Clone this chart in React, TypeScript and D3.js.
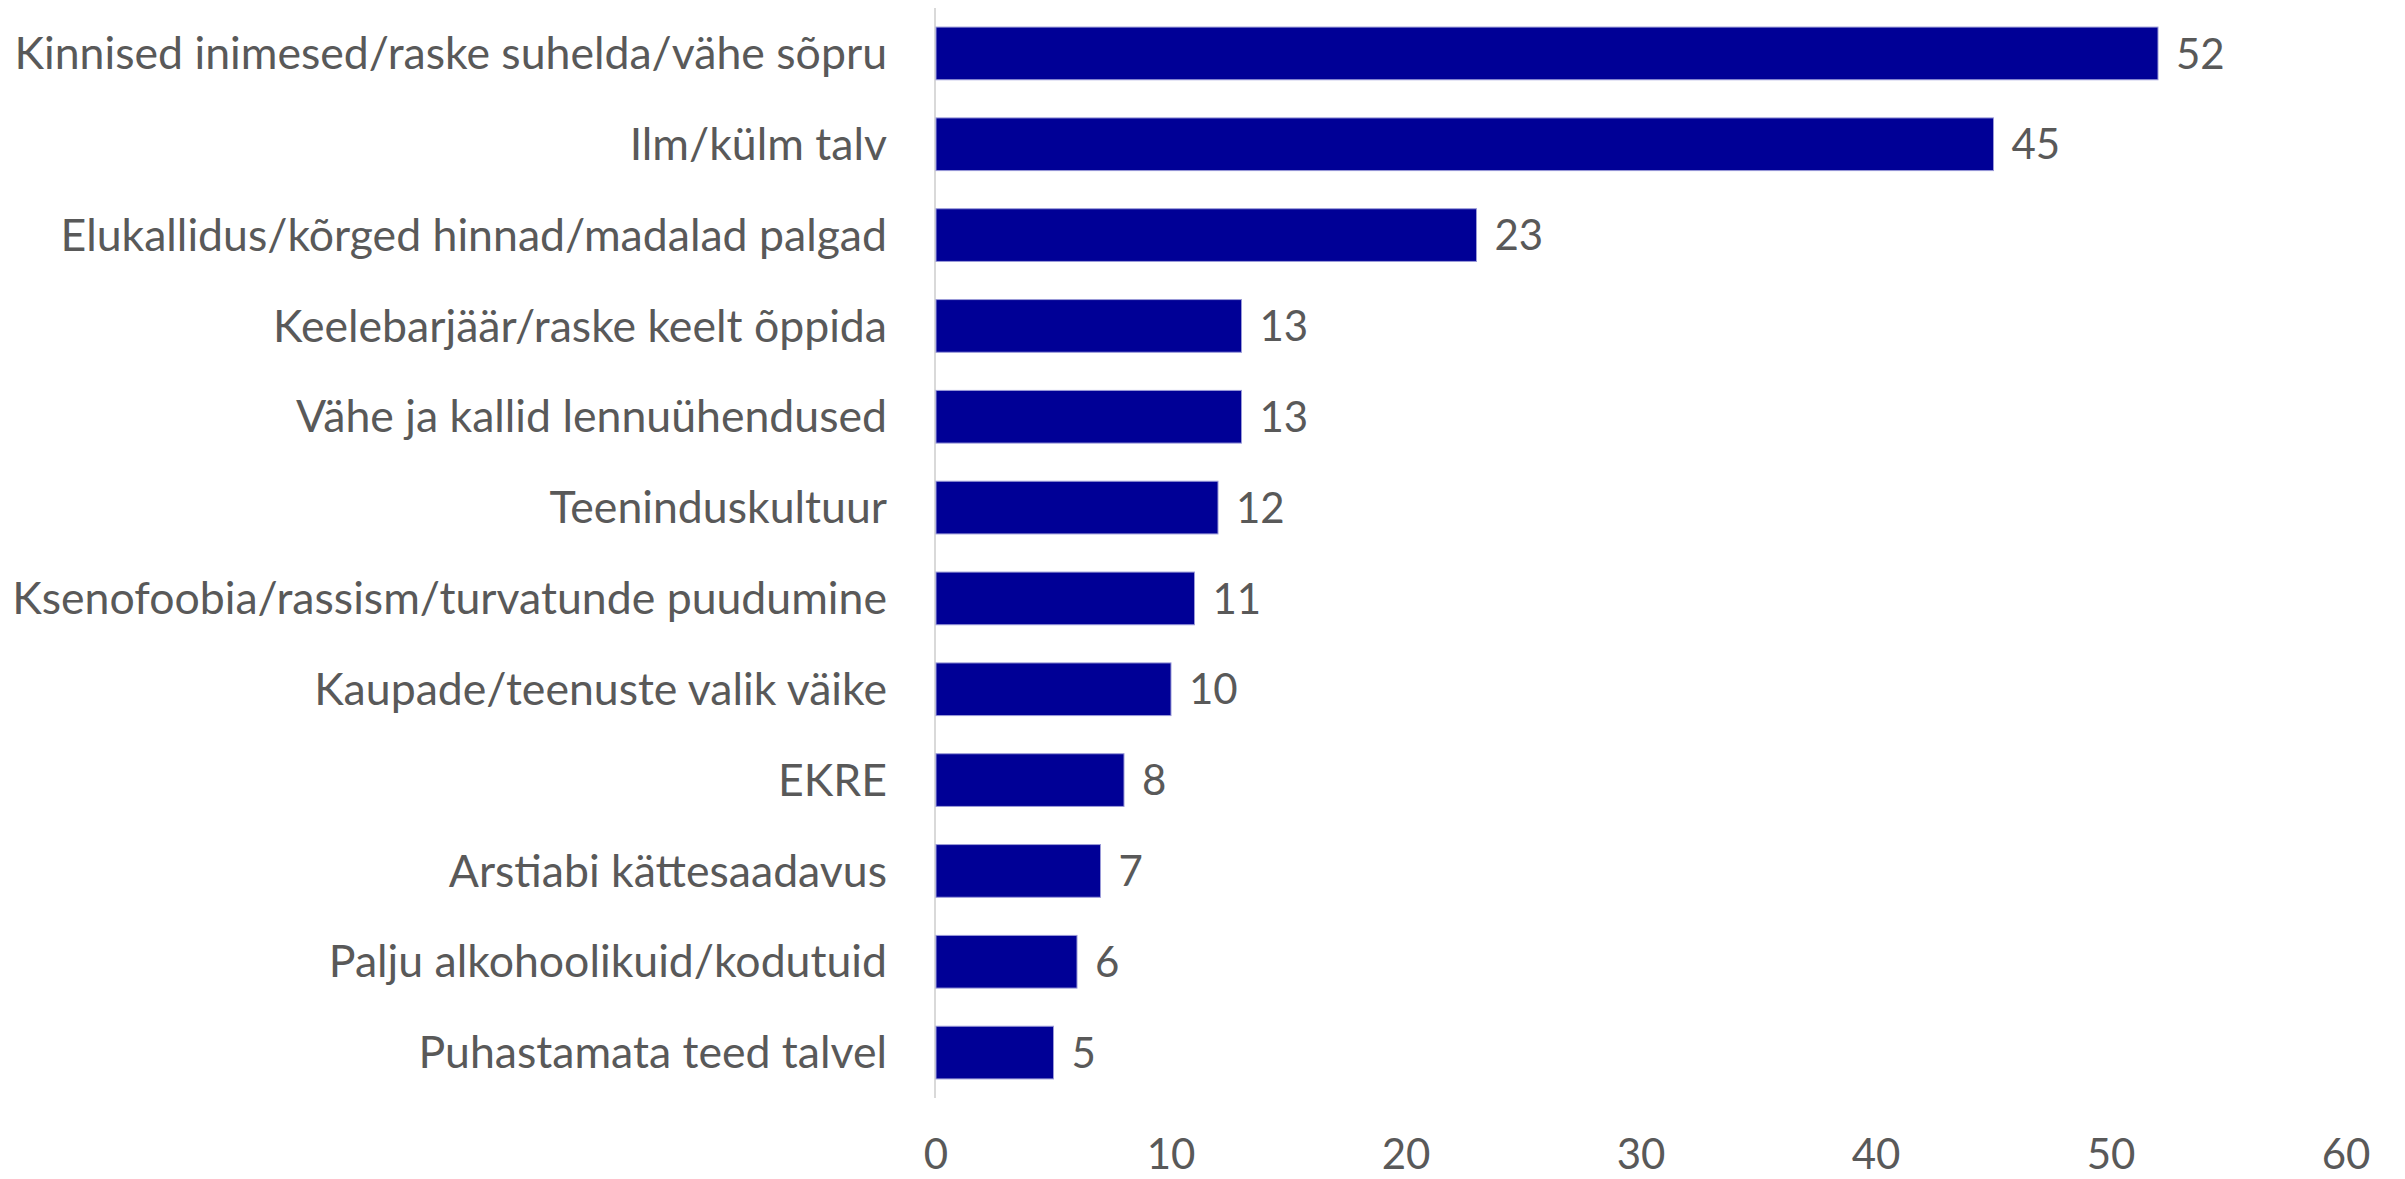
import React from "react";
import * as d3 from "d3";

const categories = [
  "Kinnised inimesed/raske suhelda/vähe sõpru",
  "Ilm/külm talv",
  "Elukallidus/kõrged hinnad/madalad palgad",
  "Keelebarjäär/raske keelt õppida",
  "Vähe ja kallid lennuühendused",
  "Teeninduskultuur",
  "Ksenofoobia/rassism/turvatunde puudumine",
  "Kaupade/teenuste valik väike",
  "EKRE",
  "Arstiabi kättesaadavus",
  "Palju alkohoolikuid/kodutuid",
  "Puhastamata teed talvel",
];
const values = [52, 45, 23, 13, 13, 12, 11, 10, 8, 7, 6, 5];
const xTicks = [0, 10, 20, 30, 40, 50, 60];

const W = 2405;
const H = 1179;
const left = 936;
const right = 2346;
const top = 8;
const bottom = 1098;
const FONT = "Lato, 'Open Sans', sans-serif";
const TEXT = "#595959";

export default function App() {
  const x = d3.scaleLinear().domain([0, 60]).range([left, right]);
  const y = d3
    .scaleBand<string>()
    .domain(categories)
    .range([top, bottom])
    .paddingInner(0.42)
    .paddingOuter(0.21);

  return (
    <svg
      width={W}
      height={H}
      style={{ position: "absolute", left: 0, top: 0, background: "#fff" }}
      fontFamily={FONT}
    >
      <line x1={left - 1} x2={left - 1} y1={top} y2={bottom} stroke="#d9d9d9" strokeWidth={2} />
      {categories.map((c, i) => {
        const yy = y(c)!;
        const bh = y.bandwidth();
        return (
          <g key={c}>
            <rect x={x(0)} y={yy} width={x(values[i]) - x(0)} height={bh} fill="#000096" stroke="#9a9ad8" strokeWidth={1} />
            <text x={887} y={yy + bh / 2} dy="0.35em" textAnchor="end" fontSize={44.6} fill={TEXT}>
              {c}
            </text>
            <text x={x(values[i]) + 18} y={yy + bh / 2} dy="0.36em" fontSize={42} fill={TEXT}>
              {values[i]}
            </text>
          </g>
        );
      })}
      {xTicks.map((t) => (
        <text key={t} x={x(t)} y={1154} dy="0.36em" textAnchor="middle" fontSize={42} fill={TEXT}>
          {t}
        </text>
      ))}
    </svg>
  );
}
